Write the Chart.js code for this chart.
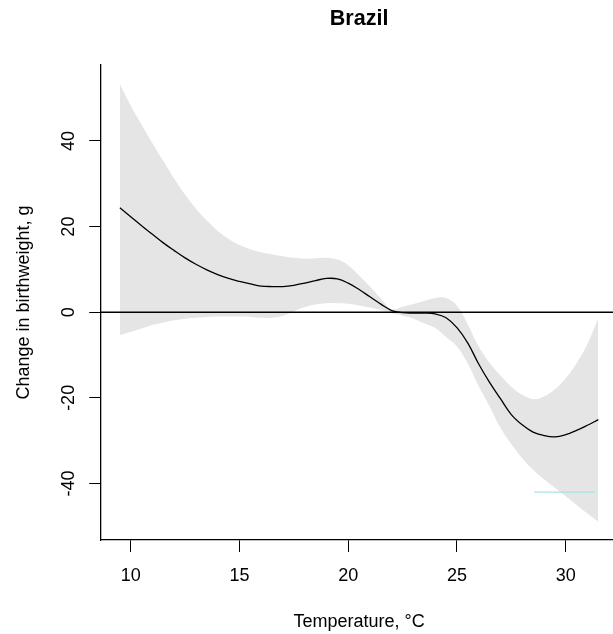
<!DOCTYPE html>
<html><head><meta charset="utf-8">
<script src="https://cdn.jsdelivr.net/npm/chart.js@4"></script>
<style>html,body{margin:0;padding:0;background:#fff;} canvas{display:block;}</style>
</head><body>
<canvas id="c" width="613" height="634"></canvas>
<script>
const temperature = [9.5,10,10.5,11,11.5,12,12.5,13,13.5,14,14.5,15,15.5,16,16.5,17,17.5,18,18.5,19,19.5,20,20.5,21,21.5,22,22.5,23,23.5,24,24.5,25,25.5,26,26.5,27,27.5,28,28.5,29,29.5,30,30.5,31,31.5];
const estimate = [24.4,22.3,20.2,18.2,16.2,14.4,12.7,11.2,9.9,8.8,7.9,7.2,6.6,6.1,6.0,6.0,6.3,6.8,7.4,7.9,7.8,6.8,5.3,3.6,1.9,0.4,-0.1,-0.2,-0.2,-0.4,-1.3,-3.6,-7.2,-12.1,-16.4,-20.2,-23.9,-26.3,-28.0,-28.8,-29.1,-28.6,-27.6,-26.4,-25.1];
const upperCI = [53.3,48.3,43.8,39.5,35.3,31.2,27.5,24.2,21.4,19.0,17.1,15.7,14.7,14.0,13.5,13.1,12.7,12.5,12.6,12.7,12.3,11.0,8.6,6.0,3.2,0.7,1.3,1.9,2.6,3.3,3.3,1.5,-2.9,-8.0,-11.8,-14.8,-17.4,-19.3,-20.3,-19.7,-18.0,-15.4,-11.9,-7.4,-1.4];
const lowerCI = [-5.3,-4.6,-3.8,-3.0,-2.4,-1.9,-1.5,-1.3,-1.1,-1.0,-1.0,-1.0,-1.1,-1.3,-1.3,-0.8,0.2,1.2,1.8,2.1,2.1,2.0,1.6,1.1,0.5,-0.2,-0.8,-1.5,-2.6,-3.7,-5.8,-8.0,-12.0,-17.3,-22.0,-27.0,-30.8,-34.1,-36.8,-39.0,-41.0,-43.0,-45.0,-47.0,-48.9];
const xTicks = [10,15,20,25,30];
const yTicks = [-40,-20,0,20,40];
const referenceY = 0;
const markX = [28.55, 31.35];
const markY = [-42, -42];
const titleText = 'Brazil';
const xLabel = 'Temperature, °C';
const yLabel = 'Change in birthweight, g';

const xRange = [8.62, 32.38];
const FONT = "'Liberation Sans', Arial, sans-serif";
const toPts = (xs, ys) => xs.map((x, i) => ({x: x, y: ys[i]}));

const textPlugin = {
  id: 'rtext',
  afterDatasetsDraw(chart) {
    const ctx = chart.ctx, a = chart.chartArea, ys = chart.scales.y;
    const py = ys.getPixelForValue(referenceY);
    ctx.save();
    ctx.beginPath(); ctx.rect(a.left, a.top, a.right - a.left, a.bottom - a.top); ctx.clip();
    ctx.strokeStyle = '#000'; ctx.lineWidth = 1.5;
    ctx.beginPath(); ctx.moveTo(a.left, py); ctx.lineTo(a.right, py); ctx.stroke();
    ctx.restore();
  },
  afterDraw(chart) {
    const ctx = chart.ctx, xs = chart.scales.x, ys = chart.scales.y, a = chart.chartArea;
    const cx = xs.getPixelForValue((xRange[0] + xRange[1]) / 2);
    const cy = (a.top + a.bottom) / 2;
    ctx.save();
    ctx.fillStyle = '#000';
    ctx.textAlign = 'center'; ctx.textBaseline = 'middle';
    ctx.font = 'bold 21.5px ' + FONT;
    ctx.fillText(titleText, cx, 19);
    ctx.font = '18px ' + FONT;
    xTicks.forEach(v => ctx.fillText(String(v), xs.getPixelForValue(v), a.bottom + 36.5));
    ctx.fillText(xLabel, cx, a.bottom + 82);
    yTicks.forEach(v => {
      ctx.save(); ctx.translate(a.left - 32, ys.getPixelForValue(v)); ctx.rotate(-Math.PI / 2);
      ctx.fillText(String(v), 0, 0); ctx.restore();
    });
    ctx.save(); ctx.translate(24.5, cy); ctx.rotate(-Math.PI / 2);
    ctx.fillText(yLabel, 0, 0); ctx.restore();
    ctx.restore();
  }
};

new Chart(document.getElementById('c'), {
  type: 'line',
  data: {
    datasets: [
      { label: 'estimate', data: toPts(temperature, estimate), borderColor: '#000', borderWidth: 1.3,
        pointRadius: 0, fill: false, tension: 0.4 },
      { label: 'mark', data: toPts(markX, markY), borderColor: '#a8e2e6', borderWidth: 1.2,
        pointRadius: 0, fill: false },
      { label: 'upper', data: toPts(temperature, upperCI), borderWidth: 0, borderColor: 'rgba(0,0,0,0)',
        backgroundColor: '#e5e5e5', pointRadius: 0, fill: 3, tension: 0.4 },
      { label: 'lower', data: toPts(temperature, lowerCI), borderWidth: 0, borderColor: 'rgba(0,0,0,0)',
        pointRadius: 0, fill: false, tension: 0.4 }
    ]
  },
  options: {
    responsive: false, animation: false, devicePixelRatio: 1,
    layout: { padding: { top: 65, left: 0, right: 0, bottom: 0 } },
    plugins: { legend: { display: false }, title: { display: false }, tooltip: { enabled: false } },
    scales: {
      x: {
        type: 'linear', min: xRange[0], max: 32.175,
        afterBuildTicks: s => { s.ticks = xTicks.map(v => ({value: v})); },
        afterFit: s => { s.height = 94; },
        ticks: { display: false },
        grid: { display: true, drawOnChartArea: false, drawTicks: true, tickLength: 12, color: '#000', lineWidth: 1 },
        border: { display: true, color: '#000', width: 1.3 }
      },
      y: {
        type: 'linear', min: -53.2, max: 57.75,
        afterBuildTicks: s => { s.ticks = yTicks.map(v => ({value: v})); },
        afterFit: s => { s.width = 100.7; },
        ticks: { display: false },
        grid: { display: true, drawOnChartArea: false, drawTicks: true, tickLength: 11.5, color: '#000', lineWidth: 1 },
        border: { display: true, color: '#000', width: 1.3 }
      }
    }
  },
  plugins: [textPlugin]
});
</script>
</body></html>
